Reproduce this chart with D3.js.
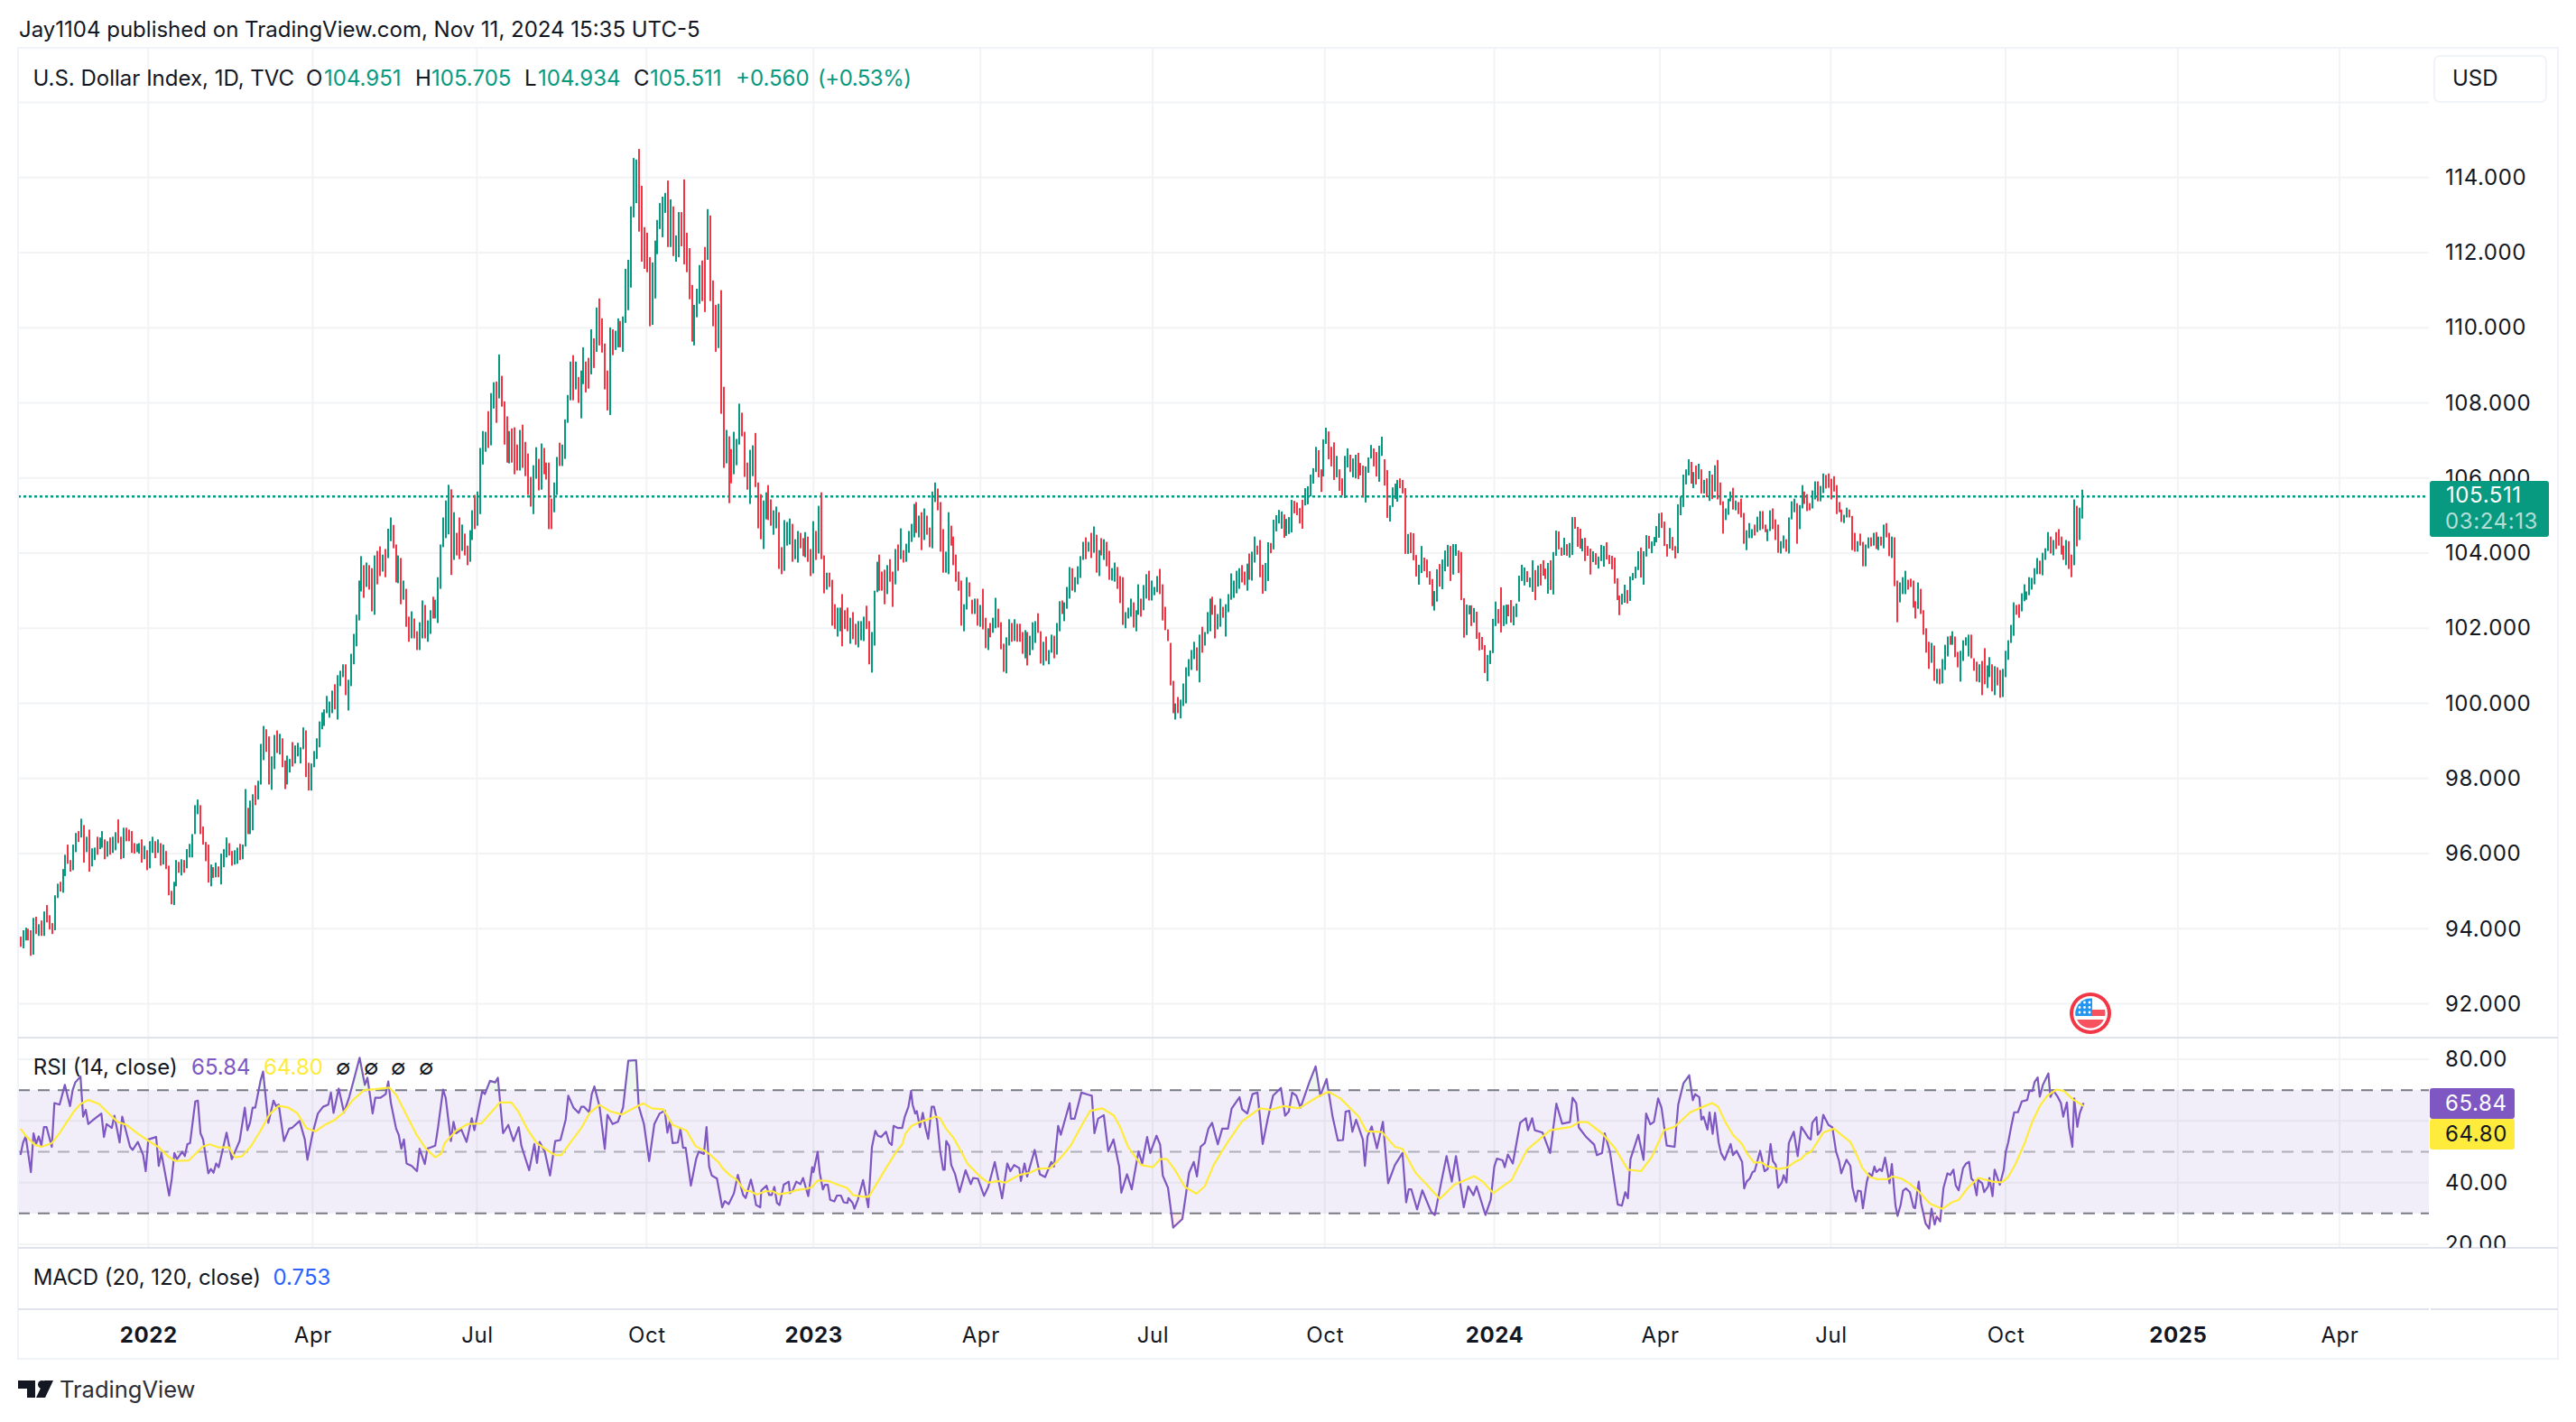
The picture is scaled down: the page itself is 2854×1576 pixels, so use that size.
<!DOCTYPE html>
<html>
<head>
<meta charset="utf-8">
<script src="https://cdn.jsdelivr.net/npm/d3@7"></script>
<style>
html, body { margin: 0; background: #fff; }
svg { display: block; font-family: Inter, "Noto Sans", sans-serif; }
</style>
</head>
<body>
<svg id="chart" width="2854" height="1576"></svg>
<script>
// bars: [high, low, up]
const bars2021 = [[93.79,93.52,0],[93.96,93.48,1],[94.03,93.69,1],[94.0,93.69,0],[93.96,93.28,0],[94.29,93.31,1],[94.32,93.86,0],[94.12,93.81,1],[94.22,93.81,0],[94.46,93.81,1],[94.63,94.17,0],[94.36,93.98,0],[94.15,93.86,0],[94.89,93.96,1],[95.2,94.82,1],[95.25,94.99,0],[95.59,94.96,1],[95.97,95.4,1],[96.24,95.73,0],[95.83,95.52,0],[96.24,95.56,1],[96.55,96.04,1],[96.6,96.31,0],[96.93,96.43,1],[96.76,95.76,0],[96.45,96.04,1],[96.64,95.52,0],[96.14,95.66,1],[96.16,95.83,1],[96.45,95.97,0],[96.43,96.12,1],[96.6,96.16,1],[96.38,95.85,0],[96.33,95.92,1],[96.43,95.97,0],[96.45,96.02,1],[96.57,96.09,1],[96.91,96.28,0],[96.45,95.85,0],[96.69,95.88,1],[96.69,96.33,0],[96.64,96.33,0],[96.6,96.02,0],[96.28,96.0,0],[96.26,96.04,1],[96.28,96.0,1],[96.38,95.76,0],[96.21,95.85,1],[96.09,95.56,0]];

const bars2022 = [[96.33,95.61,1],[96.45,96.02,1],[96.33,95.88,0],[96.38,96.02,1],[96.28,95.68,0],[96.24,95.71,1],[96.07,95.59,0],[95.68,94.89,0],[95.01,94.65,0],[95.25,94.63,1],[95.83,95.13,1],[95.78,95.49,0],[95.85,95.42,1],[95.83,95.49,0],[96.12,95.61,1],[96.26,95.9,1],[96.52,95.9,1],[97.29,96.52,1],[97.44,97.05,1],[97.29,96.52,0],[96.72,96.24,0],[96.31,95.8,0],[96.24,95.23,0],[95.71,95.13,1],[95.64,95.35,0],[95.76,95.37,1],[95.66,95.37,0],[96.0,95.18,1],[96.12,95.64,1],[96.43,95.9,1],[96.28,95.95,0],[96.07,95.68,0],[96.09,95.71,1],[96.16,95.73,1],[96.26,95.83,0],[96.24,95.85,1],[97.72,96.19,1],[97.22,96.52,0],[97.41,96.52,1],[97.58,96.62,1],[97.82,97.29,0],[97.94,97.44,1],[98.92,97.84,1],[99.4,98.49,1],[99.31,98.71,0],[99.12,97.84,0],[98.59,97.7,1],[99.16,98.25,1],[99.28,98.68,0],[99.19,98.64,1],[99.07,98.3,0],[98.48,97.72,0],[98.61,97.84,1],[98.52,98.16,1],[98.97,98.32,0],[98.88,98.4,1],[98.95,98.59,1],[98.83,98.4,1],[99.36,98.78,1],[99.28,98.04,0],[98.42,97.68,0],[98.4,97.68,1],[98.73,98.3,1],[99.07,98.52,1],[99.52,98.83,1],[99.76,99.31,1],[99.84,99.4,1],[100.2,99.74,1],[100.05,99.62,1],[100.34,99.74,1],[100.51,99.84,0],[100.75,99.57,1],[100.87,100.46,1],[101.04,100.7,1],[101.04,100.22,0],[100.63,99.81,1],[101.32,100.46,1],[101.85,101.04,1],[102.36,101.52,1],[103.27,102.21,1],[103.92,102.98,1],[103.68,102.81,0],[103.75,103.1,1],[103.68,103.03,0],[103.6,102.45,0],[103.94,102.36,1],[104.06,103.17,0],[104.18,103.39,0],[103.96,103.51,1],[104.11,103.36,0],[104.65,103.87,1],[104.95,104.32,1],[104.75,104.13,0],[104.23,103.22,0],[103.94,103.2,1],[103.87,102.64,0],[103.27,102.76,1],[103.05,102.04,0],[102.31,101.64,0],[102.45,101.73,1],[102.26,101.73,0],[101.92,101.42,0],[102.16,101.42,1],[102.74,101.73,1],[102.62,101.73,0],[102.21,101.64,1],[102.48,101.85,1],[102.84,102.26,0],[102.76,102.26,1],[103.36,102.14,1],[104.23,103.05,1],[104.95,104.16,1],[105.4,104.4,1],[105.82,104.5,1],[105.7,103.42,0],
[105.09,103.82,1],[104.54,103.94,0],[104.95,103.84,0],[104.76,104.06,1],[104.52,103.94,0],[104.2,103.68,0],[104.61,103.77,1],[105.14,104.35,1],[105.55,104.64,0],[105.64,104.73,1],[106.8,105.04,1],[107.25,106.36,1],[107.23,106.7,1],[107.78,106.8,0],[108.26,106.87,1],[108.55,107.85,1],[108.57,107.47,0],[109.29,108.12,1],[108.72,107.9,0],[108.04,106.89,0],[107.64,106.41,0],[107.25,106.39,1],[107.32,106.41,0],[107.35,106.1,0],[106.89,106.2,0],[107.28,106.2,1],[107.42,106.27,0],[106.96,106.05,0],[106.65,105.55,0],[106.03,105.24,0],[106.34,105.04,1],[106.82,105.98,1],[106.51,105.67,0],[106.92,105.69,1],[106.8,106.1,0],[106.41,105.96,0],[106.41,104.64,0],[105.45,104.64,0],[105.88,105.09,1],[106.56,105.55,1],[106.94,106.32,0],[106.89,106.32,1],[107.56,106.51,1],[108.21,107.47,1],[109.1,108.07,1],[109.27,108.07,0],[109.1,108.36,1],[108.69,108.0,0],[108.86,107.59,1],[109.48,108.5,1],[109.1,108.28,0],[109.2,108.38,0],[109.96,108.76,1],[109.72,108.93,0],[110.54,109.36,1],[110.78,109.53,0],[110.25,109.34,0],[109.58,108.36,0],[108.86,107.8,0],[110.01,107.68,1],[109.96,109.27,0],[109.92,109.41,1],[110.25,109.48,1],[110.18,109.48,0],[110.3,109.36,1],[111.57,110.13,1],[111.81,110.47,1],[113.23,111.07,1],[114.52,112.94,1],[114.48,113.32,1],[114.76,112.56,0],[113.78,111.76,0],[112.68,111.57,0],[112.53,111.48,0],[111.88,110.04,0],[111.74,110.08,1],[112.32,110.78,1],[112.87,111.96,1],[113.32,112.63,1],[113.49,112.41,1],[113.59,113.06,1],[113.92,112.15,0],[113.42,112.15,1],[113.23,111.91,0],[112.46,111.76,1],[113.08,111.88,1],[113.08,112.17,0],[113.95,111.69,0],[112.53,111.48,0],[112.12,110.76,0],[111.14,109.63,0],[110.61,109.53,1],[111.04,110.28,1],[111.67,110.64,1],[111.79,110.71,0],[112.15,110.42,0],[113.16,111.81,1],[112.99,110.71,0],[111.26,110.04,0],[110.61,109.36,0],[110.64,109.46,1],[111.0,107.71,0],[108.43,106.27,0],[107.28,106.39,1],[107.11,105.33,0],[106.77,105.86,0],[107.23,106.1,1],[107.04,106.34,1],[107.98,106.89,1],[107.74,107.11,0],[107.23,106.03,0],[106.41,105.69,0],[106.75,105.31,1],[106.87,106.05,1],[107.2,105.76,0],[105.88,104.66,0],[105.57,104.37,0],[105.4,104.11,1],[105.62,104.9,1],[105.81,104.88,0],[105.43,104.73,0],[105.14,104.49,1],[105.24,104.66,1],[105.09,103.58,0],[104.16,103.44,0],[104.88,103.53,1],[104.83,104.2,1],[104.92,104.23,1],[104.78,103.77,0],[104.37,103.84,1],[104.59,103.75,1],[104.54,104.13,0],[104.4,103.92,0],[104.56,103.89,1],[104.44,103.77,0],[104.11,103.39,0]];

const bars2023 = [[104.85,103.46,1],[104.59,103.82,0],[105.26,103.99,1],[105.62,103.84,0],[103.94,102.93,0],[103.48,103.03,1],[103.48,103.1,0],[103.29,102.07,0],[102.64,101.98,0],[102.55,101.78,1],[102.55,101.92,1],[102.91,101.52,0],[102.48,101.98,0],[102.55,101.92,0],[102.28,101.59,1],[102.43,101.71,0],[102.12,101.56,0],[102.19,101.49,1],[102.19,101.68,1],[102.31,101.66,1],[102.6,101.98,0],[102.19,101.04,0],[101.9,100.82,1],[103.0,101.54,1],[103.77,102.96,1],[103.96,103.0,0],[103.51,103.0,0],[103.56,102.64,0],[103.68,102.91,1],[103.84,103.24,0],[103.51,102.57,0],[104.11,103.17,1],[104.23,103.53,0],[104.66,103.84,1],[104.08,103.75,0],[104.25,103.77,1],[104.59,104.01,1],[104.78,104.3,1],[105.31,104.42,1],[105.36,104.54,0],[105.0,104.42,1],[105.09,104.08,0],[105.19,104.35,1],[105.0,104.49,0],[104.68,104.16,0],[105.64,104.13,1],[105.88,105.36,1],[105.72,105.14,0],[105.36,104.04,0],[104.64,103.48,0],[104.04,103.48,1],[105.09,103.44,1],[104.73,104.2,0],[104.44,103.68,0],[103.96,103.24,0],[103.51,103.0,0],[103.27,102.07,0],[102.64,101.92,1],[103.36,102.5,1],[103.22,102.84,0],[102.76,102.38,0],[102.79,102.38,1],[102.79,102.07,0],[102.62,102.04,1],[103.05,101.97,0],[102.28,101.47,0],[102.0,101.42,1],[102.14,101.76,0],[102.28,101.88,1],[102.81,102.0,1],[102.52,102.02,0],[102.16,101.44,0],[101.59,100.84,0],[101.76,100.8,1],[102.24,101.54,1],[102.14,101.64,0],[102.24,101.66,1],[102.12,101.64,0],[102.12,101.64,0],[101.9,101.32,0],[101.95,101.2,1],[101.9,101.01,0],[101.8,101.28,1],[102.16,101.42,1],[102.19,101.61,1],[102.4,101.88,0],[101.92,101.06,0],[101.64,101.01,1],[101.78,101.13,0],[101.42,101.04,1],[101.83,101.35,1],[101.8,101.2,0],[102.14,101.3,1],[102.72,101.92,1],[102.74,102.38,0],[102.69,102.19,1],[103.1,102.52,1],[103.63,102.79,1],[103.6,103.0,0],[103.36,102.96,1],[103.65,103.17,1],[103.92,103.34,1],[104.3,103.82,1],[104.42,103.84,0],[104.3,104.04,1],[104.54,103.87,0],[104.71,104.01,1],[104.49,103.48,0],[104.08,103.39,1],[104.4,103.94,0],[104.37,103.82,1],[104.3,103.65,0],[104.06,103.29,0],[103.6,103.27,1],[103.75,103.24,1],[103.63,103.05,0],[103.39,102.67,0],[103.36,102.09,0],[102.43,102.0,1],[102.55,102.26,1],[102.79,102.31,1],[102.69,102.02,0],[102.48,101.92,1],[103.17,102.36,1],[102.79,102.31,0],[103.15,102.48,1],[103.44,102.79,1],[103.53,102.74,0],[103.27,102.74,1],[103.1,102.88,1],[103.39,102.96,1],[103.58,102.91,0],[103.17,102.21,0],[102.57,101.95,0],[101.97,101.66,0],[101.61,100.48,0],[100.6,99.74,0],[100.0,99.57,1],[100.17,99.74,0],[100.1,99.6,1],[100.53,99.93,1],[100.96,100.0,1],[101.18,100.72,1],[101.42,100.89,1],[101.64,101.18,1],[101.49,100.87,0],[101.83,100.56,1],[102.04,101.35,0],[101.9,101.54,1],[102.43,101.85,1],[102.79,101.92,1],[102.84,102.36,0],[102.62,101.73,0],[102.38,101.97,1],[102.79,102.04,1],[102.57,102.28,0],[102.64,101.78,1],[102.91,102.43,1],[103.46,102.76,1],[103.27,102.81,1],[103.53,102.93,1],[103.6,103.05,1],[103.68,103.22,0],[103.51,103.15,0],[103.72,103.0,1],[103.99,103.29,0],[104.04,103.27,1],[104.44,103.75,1],[104.2,103.96,0],[104.35,103.36,0],
[103.69,102.92,0],[103.74,102.99,1],[104.29,103.26,1],[104.27,104.0,0],[104.89,104.1,1],[105.01,104.58,1],[105.15,104.79,1],[105.11,104.65,1],[105.03,104.41,0],[104.91,104.46,1],[104.96,104.51,1],[105.42,104.55,1],[105.39,105.06,0],[105.35,105.01,0],[105.2,104.79,0],[105.42,104.65,0],[105.73,105.27,1],[105.78,105.3,1],[106.09,105.51,1],[106.26,105.85,1],[106.83,106.16,1],[106.74,106.02,0],[106.23,105.63,0],[107.03,106.04,1],[107.34,106.91,1],[107.24,106.5,0],[106.83,106.31,0],[106.95,105.95,0],[106.59,106.02,1],[106.23,105.66,0],[105.99,105.54,0],[106.59,105.47,1],[106.79,106.28,1],[106.62,106.16,0],[106.52,106.02,1],[106.62,105.99,1],[106.67,105.97,0],[106.4,106.07,0],[106.33,105.49,0],[106.31,105.35,1],[106.55,106.14,1],[106.88,106.52,1],[106.79,106.31,0],[106.69,106.04,0],[106.86,105.9,1],[107.1,106.59,1],[106.5,105.8,0],[106.21,104.94,0],[105.27,104.84,1],[105.75,105.23,1],[105.85,105.44,1],[105.95,105.37,1],[105.99,105.73,0],[105.95,105.59,0],[105.73,103.98,0],[104.51,103.98,1],[104.55,104.0,0],[104.53,103.81,0],[103.95,103.38,0],[103.69,103.16,1],[104.19,103.47,1],[103.88,103.52,0],[103.83,103.35,0],[103.52,103.16,0],[103.31,102.59,0],[102.99,102.47,1],[103.57,102.71,1],[103.71,103.11,0],[103.83,103.04,1],[104.07,103.52,1],[104.22,103.64,1],[104.19,103.26,0],[104.24,103.43,1],[104.24,103.93,1],[104.07,103.47,0],[104.03,102.75,0],[102.8,101.75,0],[102.63,101.82,1],[102.61,102.37,1],[102.61,102.06,0],[102.54,102.15,1],[102.44,101.72,0],[101.89,101.41,0],[101.77,101.43,0],[101.55,100.81,0],[101.29,100.59,1],[101.41,101.05,1]];

const bars2024 = [[102.25,101.34,1],[102.71,102.06,1],[102.51,102.13,0],[103.09,101.89,0],[102.61,102.06,1],[102.63,102.11,1],[102.63,102.32,0],[102.75,102.15,0],[102.59,102.08,1],[102.66,102.3,1],[103.4,102.71,1],[103.69,103.26,1],[103.62,103.14,1],[103.52,103.23,0],[103.35,103.09,1],[103.81,102.97,1],[103.55,102.75,0],[103.67,103.11,1],[103.71,103.14,0],[103.81,103.4,0],[103.59,103.31,0],[103.74,102.92,1],[103.81,103.02,0],[104.03,102.9,1],[104.6,103.93,1],[104.58,104.1,0],[104.15,103.93,0],[104.41,103.95,1],[104.24,103.93,0],[104.27,103.88,1],[104.96,103.95,1],[104.96,104.65,0],[104.7,104.17,0],[104.65,104.12,0],[104.39,104.05,1],[104.41,103.79,0],[104.19,103.93,0],[104.12,103.43,0],[104.05,103.76,1],[104.0,103.69,0],[103.91,103.59,1],[104.22,103.79,1],[104.19,103.64,1],[104.29,103.83,0],[103.95,103.71,0],[103.93,103.57,0],[103.88,103.19,0],[103.33,102.75,0],[102.87,102.35,0],[102.92,102.63,1],[103.16,102.68,1],[103.02,102.66,0],[103.38,102.73,1],[103.47,103.28,1],[103.64,103.33,1],[104.05,103.55,1],[104.15,103.35,0],[104.05,103.16,1],[104.48,103.91,1],[104.46,104.12,0],[104.31,104.0,1],[104.43,104.19,1],[104.72,104.29,1],[105.06,104.41,1],[105.08,104.67,0],[104.84,104.19,0],[104.24,103.91,0],[104.67,104.12,1],[104.43,104.07,0],[104.19,103.86,0],[105.3,104.0,1],[105.51,105.01,1],[106.09,105.23,1],[106.23,105.83,1],[106.5,106.07,1],[106.43,105.85,0],[106.16,105.73,1],[106.33,105.83,0],[106.38,105.97,1],[106.23,105.59,0],[105.95,105.59,1],[105.99,105.49,0],[106.19,105.39,1],[106.09,105.44,0],
[106.34,105.64,1],[106.48,105.43,0],[105.88,105.28,0],[105.38,104.52,0],[105.19,104.88,1],[105.45,105.02,1],[105.64,105.38,1],[105.74,105.16,0],[105.4,105.14,1],[105.36,105.04,0],[105.45,104.95,0],[105.07,104.25,0],[104.61,104.08,1],[104.8,104.4,1],[104.64,104.4,1],[104.76,104.47,0],[104.97,104.56,1],[105.12,104.61,1],[105.12,104.64,0],[104.76,104.56,0],[104.64,104.32,1],[105.14,104.59,1],[105.19,104.64,0],[104.9,104.35,0],[104.76,104.01,0],[104.32,103.99,1],[104.47,104.13,1],[104.37,104.04,0],[104.95,103.99,1],[105.38,104.9,1],[105.45,105.09,1],[105.33,104.25,0],[105.28,104.64,1],[105.81,105.19,1],[105.64,105.31,0],[105.57,105.12,0],[105.33,105.14,0],[105.67,105.19,1],[105.91,105.43,1],[105.91,105.38,0],[105.79,105.38,1],[106.12,105.6,1],[106.08,105.72,0],[106.12,105.74,0],[105.98,105.43,0],[106.05,105.64,0],[105.81,105.04,0],[105.36,105.09,0],[105.16,104.83,0],[105.02,104.8,1],[105.21,104.95,1],[105.16,104.95,0],[104.99,104.08,0],[104.54,104.04,0],[104.32,104.04,1],[104.52,104.2,0],[104.3,103.65,0],[104.23,103.65,1],[104.42,104.13,1],[104.42,104.18,0],[104.54,104.2,1],[104.56,104.11,0],[104.44,104.08,1],[104.44,104.2,0],[104.76,104.13,1],[104.8,104.42,0],[104.54,103.92,0],[104.44,103.87,1],[104.42,103.12,0],[103.27,102.16,0],[103.22,102.69,1],[103.36,102.91,1],[103.53,102.91,1],[103.29,103.03,0],[103.32,103.1,0],[103.27,102.55,0],[102.72,102.26,0],[103.22,102.52,1],[103.05,102.38,0],[102.48,101.83,0],[102.0,101.35,0],[101.64,100.92,0],[101.61,101.08,1],[101.54,100.6,0],[100.92,100.53,1],[100.92,100.51,0],[101.18,100.53,1],[101.56,100.89,1],[101.78,101.25,1],[101.8,101.56,0],[101.92,101.56,1],[101.78,101.23,0],[101.37,100.96,0],[101.4,100.58,1],[101.68,101.13,1],[101.76,101.54,1],[101.83,101.25,1],[101.83,101.2,0],[101.2,100.87,0],[101.11,100.58,0],[101.04,100.56,1],[101.13,100.22,0],[101.47,100.51,0],[101.01,100.41,1],[101.23,100.7,1],[101.04,100.32,0],[100.99,100.22,1],[100.96,100.48,0],[100.89,100.15,0],[100.92,100.17,1],[101.4,100.7,1],[101.68,101.16,1],[102.09,101.61,1],[102.69,101.8,1],[102.62,102.36,0],[102.64,102.28,0],[102.93,102.45,1],[103.17,102.72,1],[102.98,102.76,1],[103.36,102.88,1],[103.34,103.03,1],[103.6,103.17,1],[103.87,103.44,1],[103.8,103.44,0],[104.01,103.41,1],[104.13,103.82,1],[104.56,104.06,1],[104.44,103.99,0],[104.35,103.94,1],[104.56,104.11,0],[104.64,104.2,0],[104.44,103.96,0],[104.2,103.82,0],[104.35,103.68,1],[104.32,103.58,0],[103.96,103.36,0],[105.43,103.68,1],[105.26,104.18,0],[105.21,104.35,1],[105.69,104.92,1]];

// RSI turning points: [bar number, value]
const rsiPointsA = [[0,49],[1,53],[2,55],[4,43.4],[5,56],[6,52.5],[7,55],[8,52],[9,58],[10,58],[12,51.6],[13,65.8],[15,65.3],[17,71.7],[19,64.8],[20,70],[21,72.5],[23,74.4],[24,61.4],[25,63.6],[26,59],[28,60.4],[31,62.4],[32,54.8],[33,59],[35,57.7],[36,61.7],[38,53],[39,61.4],[42,51.6],[43,50.6],[45,53.2],[47,49],[48,43.7],[49,54],[52,54.8],[53,45.4],[54,49.6],[57,35.8],[58,41.3],[59,49.6],[60,47.6],[62,50],[63,48.6],[64,52.5],[65,52.8],[67,66.3],[68,66.6],[69,56],[70,54],[72,43],[73,44.4],[74,43.2],[75,46.2],[76,45],[79,56.2],[81,47.6],[84,53.5],[86,64.3],[87,57],[88,59.4],[89,64.3],[90,64.3],[92,73],[93,76],[95,59.4],[97,66.6],[98,64.8],[99,65.3],[101,53.5],[103,57.5],[104,57.7],[107,60],[109,54],[110,47.4],[112,56],[114,62.4],[116,64.6],[118,65.3],[119,69.2],[120,62.6],[122,70.5],[124,62.8],[126,67.7],[128,74],[130,80.5],[132,71.7],[133,74],[135,62.4],[136,67.5],[138,67.5],[140,68.7],[141,72.8],[142,65.8],[144,57.5],[145,55.5],[146,51],[147,54],[148,46.2],[150,45.4],[152,43.7],[153,51],[155,46],[156,51],[159,52],[160,57.5],[162,70.2],[163,67.5],[165,53.5],[166,59.7],[167,56],[169,57.2],[171,53.2],[173,60.9],[174,57],[177,69.7],[178,68.7],[180,73],[182,72.5],[183,74],[185,56],[187,58.7],[189,53.5],[191,58],[192,52],[195,44],[197,52.5],[198,46.4],[199,53.2],[201,50],[203,42.3],[205,53.5],[207,53.8],[209,60.4],[210,68.2],[212,64.3],[214,62.6],[215,64.6],[216,64.6],[218,62.8],[219,68.7],[220,71.2],[222,64.6],[224,50.9],[225,62],[227,59],[229,59.7],[231,64.3],[233,79.5],[236,79.7],[237,64.8],[239,59],[241,47],[243,59],[245,62.4],[247,63.3],[248,56.2],[249,60],[250,52.8],[252,53],[253,57.5],[254,51.3],[255,51.3],[257,39],[259,47.6],[260,50],[262,49.3],[263,58],[264,45.2],[265,42.3],[267,41.3],[269,32]];
const rsiPointsB = [[270,34],[271.5,33],[273.5,36.5],[275,42.5],[277,36],[278,35],[280,41],[281,37.5],[282,32.7],[283.6,32],[284,37.5],[286,39],[287,36],[288,36],[289,38.6],[290,33.4],[291,32.7],[292.6,39.3],[294.5,40.3],[295,36.6],[296,37.4],[297.4,40.3],[299,39.5],[300,41.5],[302,35.6],[303.5,45],[304,43.4],[305.6,50],[306.4,43.2],[307.6,37.8],[308.4,39.3],[309.5,39.3],[310.4,34.4],[312,33.9],[313,35.8],[314.5,35.8],[315.6,33.6],[317,33.4],[317.4,35],[319,33.4],[319.7,31.5],[321,34.4],[323,40.8],[325,32],[326.4,51.5],[327.7,56.8],[328.7,55.2],[330,54.8],[331.8,56.5],[333,53],[334,52.2],[334.7,58.4],[336.4,57.7],[338,57.7],[339,61.4],[340.4,64.6],[341.4,69.7],[342,65.3],[343,62.4],[343.6,63.2],[344.8,58],[345.9,62.6],[347,57.5],[348,54.2],[349.3,64.6],[350.2,64.6],[351.4,60],[352.5,50.6],[353.7,44.2],[354.3,44.2],[354.9,53.5],[356,51.9],[356.8,45.7],[358.3,42.7],[360,36.9],[362.3,44],[364.3,39.5],[365.2,41.5],[367,41.3],[369.4,35.7],[371,38.6],[373.5,46.7],[376.3,34.9],[378.3,46.2],[379.5,43.7],[380.9,45.7],[382.9,44.7],[383.5,40.5],[384.9,46.2],[385.9,42],[388.8,50.6],[390.8,42.7],[392.8,41.8],[395.2,46.7],[396.2,45.2],[397.8,58.4],[398.8,55.5],[402.2,65.8],[402.7,60.7],[404.1,60.7],[406.7,69.2],[409.3,68.5],[410.7,68.2],[411.7,56],[413.1,60.7],[415.3,61.9],[417,50.1],[419,54],[421.2,45.2],[422,36.7],[424.2,42.7],[426,37.8],[428.6,50.1],[430,46.2],[431.9,54.8],[433.1,49.6],[435.5,55.2],[436.9,52.3],[437.9,42.3],[439.9,38.3],[441.9,25.4],[445.4,28.2],[448,43.2],[449.8,46.7],[451,42],[452.4,51.6],[454,52.8],[455.4,57.5],[456.8,59.4],[459,52.4],[460.7,57.5],[462.9,57.5],[464.3,64],[467.3,67.7],[468.3,63.8],[470.3,62.4],[472.3,68.7],[474.2,69.2],[476.2,52.5],[478.2,60.9],[480.2,68.2],[483.2,70.7],[484.8,61.7],[486.2,63],[487.5,69.2],[489.1,68.2],[490.7,64.3],[494.1,72.6],[496.5,77.7],[498.3,68.2],[500.7,73.6],[503,61.4],[505,53.7],[507,53.8],[508,63],[509.4,63.3],[510.6,56.5],[512,60.4],[514.6,54],[515.4,45.4],[516.4,55],[518,58.2],[520,51.1],[522.3,59.7],[524.3,39.8],[526.9,45.7],[529.8,49.6],[531.2,33.6],[532.2,37.8],[533.2,37.8],[535.4,31.3],[537.4,37.5],[540.8,30.5],[542.2,29.5],[544.7,40.3],[546.7,48.6],[548.7,40.3],[550.3,48.6],[553.3,32],[555,38.8],[557,35.9],[558.2,38.8],[561.6,29.5],[563.6,34.4]];
const rsiPointsC = [[565,45.2],[566,47.8],[568.2,47.2],[569,45],[570.2,49.1],[572.1,46.2],[574.9,59.4],[577.1,60.9],[577.9,57],[579.5,60.9],[580.5,57],[583.5,56.2],[586.4,49.6],[588.8,65.6],[591,59.1],[594,59.6],[595,67.5],[596.4,65.8],[597.4,57.9],[600,55],[603.3,52.3],[604.3,48.9],[606.3,49.6],[607.3,56],[609.3,50.1],[612.3,32.9],[613.9,32.5],[615.2,36.9],[616.2,34.9],[617.2,47.6],[620.2,55.5],[622.2,47.4],[623.2,62.4],[624.8,58.9],[626.2,59.7],[627.8,67.3],[629.1,64.3],[631.1,52],[634.1,51.6],[635.5,65.3],[637.5,72.2],[639.7,74.8],[641.1,66.7],[642,68.7],[643.6,67.7],[644.4,60.4],[645.2,61.4],[646.7,57.2],[647.5,62.8],[648.7,55.8],[649.6,62.6],[651,53],[651.9,49.6],[653.3,47.4],[655.6,52.5],[656.5,48.9],[657.9,50.3],[660,46.7],[660.8,38.1],[661.7,40.3],[662.9,41.3],[664,43.4],[664.8,43.7],[666.9,50.3],[668.6,43.7],[669.8,44.4],[670.9,52.5],[671.8,47],[672.9,45.7],[673.8,38.3],[675.2,40],[675.9,42.4],[677,40],[677.9,52.8],[679.8,56.5],[681.3,48.6],[682.7,58.1],[684.2,56.2],[685.4,54.5],[686.3,54],[686.9,59.4],[688.5,61.2],[689,55.5],[690.2,57],[691.1,62],[693.1,58.7],[694.6,57.9],[696,50.1],[697.1,47.2],[698,43],[700,47.4],[701.5,45.4],[702.3,38.4],[703.6,33.9],[704.4,37.4],[705.5,37.2],[706.3,31.7],[707.8,40.3],[708.7,43],[709.8,42.1],[710.7,45.2],[711.5,43.4],[712.8,44.4],[713.6,43.7],[714.8,48.1],[716.5,39.8],[717.4,46],[718.8,32.5],[719.6,29.2],[720.8,32.9],[721.7,37.4],[722.8,38.1],[724.3,36.9],[725.7,32],[726.3,31.7],[727.7,40.3],[728.6,33.4],[730.3,26.8],[731.7,25.1],[732.6,31.5],[733.8,26.4],[734.6,29],[735.9,27.4],[737.2,38.3],[738.7,43],[739.8,42.5],[741,44.2],[741.9,39.1],[743,37.5],[744.7,44.7],[745.9,46.2],[747,46.7],[747.9,41.3],[748.8,40.5],[749.9,35.9],[750.5,40.8],[752,39.8],[752.8,36.9],[754.3,38.8],[754.8,41.5],[756,35.6],[756.8,44.2],[758.8,39.3],[760.3,44.2],[761.1,50.1],[762,53],[763.2,58.4],[764.3,62.8],[765.7,62.8],[767.2,66.3],[769.3,66.8],[770.1,69.7],[771.3,69.7],[772.1,72.6],[773.3,74.1],[774.1,67.9],[775.3,71.7],[777.4,75.4],[778.2,67.8],[779.3,69.9],[781,67.8],[782.2,65.8],[783.1,61.4],[784.5,66],[785.3,57.9],[786.6,51.6],[787.3,67.3],[788.5,58.1],[789.4,62.4],[790.9,65.84]];

// RSI moving average, read at intervals along the yellow line
const rsiMaPoints = [[0,57.5],[1.9,55.3],[5.4,52.3],[8,51.6],[12,52.8],[15.1,56.2],[17.8,59.7],[20.4,63],[23,65.5],[26.1,66.8],[30.1,65.5],[33.6,62.6],[37.2,59.7],[40.7,58.7],[45.1,55.8],[49.5,53.3],[53.1,51.4],[56.6,48.5],[59.3,47],[64.6,47.2],[67.2,49.4],[69.9,51.7],[72.5,52.4],[76,51.4],[80,51.4],[82.2,48.2],[84.9,48.5],[88.4,51.9],[92,56.8],[95.5,62.2],[99,64.9],[102.5,64.4],[106,62.6],[109.6,57.7],[113.1,56.6],[116.6,58.7],[120.2,60.2],[123.7,62.6],[127.2,66.6],[131.7,70],[136.1,70.3],[141.4,70.8],[144,68.5],[148.4,61.2],[152,55.3],[155.5,50.9],[159,48.2],[161.3,49.4],[162.6,52.8],[167,56.8],[171.4,59],[176.7,59.2],[180.2,62.6],[183.8,66],[188.2,66],[190.8,63.1],[194.4,57.2],[197.9,52.8],[202.3,50.3],[205,48.9],[207.3,48.9],[211.1,53.3],[215,57.7],[218.2,62.6],[222,65.2],[226.1,63.1],[230.5,62.1],[235,64.1],[238.8,65.7],[242,64.1],[246.4,63.8],[250,58.7],[255.3,56.9],[258.8,51.8],[262.4,50.2],[264.3,49.1],[267.8,46.4],[269.1,44.7],[271.8,42.5],[274.7,40.8],[277.6,37.4],[279.9,37.2],[282.2,36.1],[285.6,37.2],[288.3,37.2],[290.8,36.2],[294.3,36.7],[297.7,37.6],[301.2,38],[303.3,38.5],[305.6,40.7],[309.8,40.5],[313.3,39.3],[316.8,38.3],[319.3,35.9],[323.1,35.4],[325.2,35.4],[328.3,39.8],[331.8,44.7],[335.8,50.1],[338.1,52.5],[339.2,55.8],[341.6,58.4],[345,59.7],[348.5,60.7],[350.8,61.4],[352.5,60.9],[354.8,57.5],[357.7,54.5],[360.6,50.1],[363,46.2],[368,41.8],[371,40],[375,40.5],[377.5,40],[382.9,42.5],[386.9,43.2],[390.2,44.5],[394.8,44.7],[398.8,48.1],[402.7,52.1],[406.7,58.4],[410.1,63.3],[414.7,64.1],[419.2,61.7],[421.6,57.9],[424.6,51.6],[429.6,45.7],[434.1,45],[436.9,47.6],[439.5,47.6],[442.5,44.2],[446.4,38.6],[450.8,36.4],[454,38.8],[457.4,45.7],[462.3,52.5],[468.3,59.9],[475.2,64.1],[479.2,63.6],[484.2,64.8],[490.1,64.1],[497.1,67.7],[501.4,69.5],[506,67.3],[513,61.4],[515.9,56.7],[521.9,56.4],[526.9,51.6],[529.8,50.9],[534.8,43.2],[538.8,39.6],[544.1,34.7],[549.7,39.3],[553.7,40.8],[557.3,42.1],[560.6,40.3],[564.6,36.6],[571.6,40.8],[577.5,50.6],[586.4,57],[594.4,58.1],[597.4,59.6],[600.7,59.6],[606.3,56],[611.3,51.1],[616.2,44.2],[621.2,43.7],[625.2,48.1],[630.1,57],[634.1,58.1],[640.1,62.8],[645,64.6],[648.5,65.8],[650.8,64.6],[653.7,59.4],[656.5,55.5],[660,52.5],[661.7,49.6],[664.6,46.5],[667.5,46.5],[669.5,45.4],[673.8,44.4],[677.3,44.9],[680.2,46.7],[682.5,47.6],[684.2,49.1],[686.5,50.1],[691.1,56.2],[695.2,57.5],[698,55.5],[701.5,53.2],[704.4,48.1],[706.1,44.7],[709,41.8],[711.9,41.1],[715.9,41.1],[717.6,42],[721.1,41.3],[724,39.8],[727.4,37.4],[732,33.2],[736.7,31.5],[740.7,33.7],[743,34.4],[746.5,38.3],[750.5,41.5],[756.3,40.3],[759.4,40.1],[762,41.8],[764.9,46.2],[768.4,53],[771.3,59.9],[774.1,64.8],[777,68.2],[780.5,70.2],[783.4,69.7],[786.8,67],[790.9,64.8]];

const priceTicks = [114,112,110,108,106,104,102,100,98,96,94,92];
const priceGrid = [116].concat(priceTicks);
const rsiGrid = [80,60,40,20];
const rsiTicks = [80,40,20];
const timeLabels = ['2022','Apr','Jul','Oct','2023','Apr','Jul','Oct','2024','Apr','Jul','Oct','2025','Apr'];
const timeBars = [49,112,175,240,304,368,434,500,565,628.5,694,761,827,889];
const lastClose = 105.511;

const GREEN = '#089981', RED = '#F23645', PURPLE = '#7E57C2', YELLOW = '#FFEB3B';
const INK = '#131722', GRID = '#f2f3f5', SEP = '#e0e3eb', FRAME = '#f0f3fa';

const bars = bars2021.concat(bars2022, bars2023, bars2024);
const rsiPoints = rsiPointsA.concat(rsiPointsB, rsiPointsC);

const L = 20, R = 2691, TOP = 53, MAIN_B = 1150, RSI_B = 1383, MACD_B = 1451, BOTTOM = 1506, RIGHT = 2834;
const LAST_X = 2307, FIRST_X = 22.7;

const x = d3.scaleLinear().domain([0, 790.4]).range([FIRST_X, LAST_X]);
const barX = d3.scaleLinear().domain([0, bars.length - 1]).range([FIRST_X, LAST_X]);
const yPrice = d3.scaleLinear().domain([92, 116]).range([1112.6, 113.5]);
const yRsi = d3.scaleLinear().domain([20, 80]).range([1379, 1174]);

const svg = d3.select('#chart');
svg.append('rect').attr('width', 2854).attr('height', 1576).attr('fill', '#fff');

const defs = svg.append('defs');
function addClip(id, x0, y0, w, h) {
    defs.append('clipPath').attr('id', id).append('rect')
        .attr('x', x0).attr('y', y0).attr('width', w).attr('height', h);
}
addClip('clip-main', L, TOP, R - L, MAIN_B - TOP);
addClip('clip-rsi', L, MAIN_B, R - L, RSI_B - MAIN_B);
addClip('clip-rsi-axis', R, MAIN_B, RIGHT - R, RSI_B - MAIN_B);
addClip('clip-over', L, MAIN_B, R - L, yRsi(70) - MAIN_B);
addClip('clip-under', L, yRsi(30), R - L, RSI_B - yRsi(30));

// grid
const grid = svg.append('g').attr('stroke', GRID).attr('stroke-width', 2);
grid.selectAll('.hp').data(priceGrid).join('line').attr('class', 'hp')
    .attr('x1', L).attr('x2', R)
    .attr('y1', d => yPrice(d)).attr('y2', d => yPrice(d));
grid.selectAll('.hr').data(rsiGrid).join('line').attr('class', 'hr')
    .attr('x1', L).attr('x2', R)
    .attr('y1', d => yRsi(d)).attr('y2', d => yRsi(d));
grid.selectAll('.v').data(timeBars).join('line').attr('class', 'v')
    .attr('x1', d => x(d)).attr('x2', d => x(d))
    .attr('y1', TOP).attr('y2', RSI_B);

// RSI band and levels
svg.append('rect')
    .attr('x', L).attr('width', R - L)
    .attr('y', yRsi(70)).attr('height', yRsi(30) - yRsi(70))
    .attr('fill', PURPLE).attr('fill-opacity', 0.1);
const levels = [[70, '#787b86'], [50, 'rgba(120,123,134,0.55)'], [30, '#787b86']];
svg.append('g').selectAll('line').data(levels).join('line')
    .attr('x1', L).attr('x2', R)
    .attr('y1', d => yRsi(d[0])).attr('y2', d => yRsi(d[0]))
    .attr('stroke', d => d[1]).attr('stroke-width', 2)
    .attr('stroke-dasharray', '13 9');

// price bars
const main = svg.append('g').attr('clip-path', 'url(#clip-main)');
main.append('line')
    .attr('x1', L).attr('x2', R - 3)
    .attr('y1', yPrice(lastClose)).attr('y2', yPrice(lastClose))
    .attr('stroke', GREEN).attr('stroke-width', 2.5).attr('stroke-dasharray', '3 3');
main.selectAll('.bar').data(bars).join('rect').attr('class', 'bar')
    .attr('x', (d, i) => Math.round(barX(i)) - 1)
    .attr('width', 2)
    .attr('y', d => yPrice(d[0]))
    .attr('height', d => yPrice(d[1]) - yPrice(d[0]))
    .attr('fill', d => d[2] ? GREEN : RED);

// RSI lines
const rsiPane = svg.append('g').attr('clip-path', 'url(#clip-rsi)');
const rsiArea = base => d3.area().x(d => x(d[0])).y0(yRsi(base)).y1(d => yRsi(d[1]));
svg.append('path').datum(rsiPoints).attr('d', rsiArea(70))
    .attr('fill', '#4caf50').attr('fill-opacity', 0.1).attr('clip-path', 'url(#clip-over)');
svg.append('path').datum(rsiPoints).attr('d', rsiArea(30))
    .attr('fill', '#ff5252').attr('fill-opacity', 0.1).attr('clip-path', 'url(#clip-under)');
const rsiLine = d3.line().x(d => x(d[0])).y(d => yRsi(d[1]));
rsiPane.append('path').datum(rsiPoints).attr('d', rsiLine)
    .attr('fill', 'none').attr('stroke', PURPLE).attr('stroke-width', 2.2).attr('stroke-linejoin', 'round');
rsiPane.append('path').datum(rsiMaPoints).attr('d', rsiLine)
    .attr('fill', 'none').attr('stroke', YELLOW).attr('stroke-width', 2.2).attr('stroke-linejoin', 'round');

// frame and separators
const frame = svg.append('g').attr('fill', 'none');
frame.append('rect').attr('x', L).attr('y', TOP).attr('width', RIGHT - L).attr('height', BOTTOM - TOP)
    .attr('stroke', FRAME).attr('stroke-width', 2);
frame.selectAll('line').data([MAIN_B, RSI_B, MACD_B]).join('line')
    .attr('x1', L).attr('x2', RIGHT)
    .attr('y1', d => d).attr('y2', d => d)
    .attr('stroke', SEP).attr('stroke-width', 2);
frame.append('line').attr('x1', R).attr('x2', R + 2).attr('y1', MACD_B).attr('y2', MACD_B)
    .attr('stroke', '#fff').attr('stroke-width', 3);

// axes
const axisFont = g => g.attr('font-family', 'Inter, "Noto Sans", sans-serif').attr('font-size', 24).attr('letter-spacing', 0.6);
const priceAxis = svg.append('g').attr('transform', 'translate(2709,0)')
    .call(d3.axisRight(yPrice).tickValues(priceTicks).tickSize(0).tickPadding(0).tickFormat(d3.format('.3f')))
    .call(axisFont);
priceAxis.select('.domain').remove();
priceAxis.selectAll('text').attr('fill', INK);

const rsiAxisWrap = svg.append('g').attr('clip-path', 'url(#clip-rsi-axis)');
const rsiAxis = rsiAxisWrap.append('g').attr('transform', 'translate(2709,0)')
    .call(d3.axisRight(yRsi).tickValues(rsiTicks).tickSize(0).tickPadding(0).tickFormat(d3.format('.2f')))
    .call(axisFont);
rsiAxis.select('.domain').remove();
rsiAxis.selectAll('text').attr('fill', INK);

const timeAxis = svg.append('g').attr('transform', 'translate(0,1480)')
    .call(d3.axisBottom(x).tickValues(timeBars).tickSize(0).tickPadding(0).tickFormat((d, i) => timeLabels[i]))
    .call(axisFont);
timeAxis.select('.domain').remove();
timeAxis.selectAll('text')
    .attr('y', 0).attr('dy', '0.35em').attr('fill', INK)
    .attr('font-weight', (d, i) => /^\d/.test(timeLabels[i]) ? 700 : 400);

// texts
function label(x0, y0, str, fill, opts) {
    const o = opts || {};
    return svg.append('text').attr('x', x0).attr('y', y0).attr('dy', '0.35em')
        .attr('font-size', o.size || 24).attr('fill', fill || INK)
        .attr('letter-spacing', o.spacing || 0)
        .attr('font-weight', o.weight || 400).text(str);
}
label(21, 33, 'Jay1104 published on TradingView.com, Nov 11, 2024 15:35 UTC-5');

const headerBits = [
    [36.5, 'U.S. Dollar Index, 1D, TVC', INK],
    [339, 'O', INK], [359, '104.951', GREEN],
    [460, 'H', INK], [478, '105.705', GREEN],
    [581, 'L', INK], [596, '104.934', GREEN],
    [702, 'C', INK], [720, '105.511', GREEN],
    [815, '+0.560', GREEN], [906, '(+0.53%)', GREEN]
];
headerBits.forEach(b => label(b[0], 87, b[1], b[2], { spacing: b[1][0] === '(' ? -0.5 : 0 }));

const rsiBits = [
    [36.7, 'RSI (14, close)', INK], [212, '65.84', PURPLE], [292, '64.80', YELLOW],
    [372, '\u2205', INK], [403, '\u2205', INK], [433, '\u2205', INK], [464, '\u2205', INK]
];
rsiBits.forEach(b => label(b[0], 1183, b[1], b[2]));

label(36.7, 1416, 'MACD (20, 120, close)');
label(302.5, 1416, '0.753', '#2962FF');

// USD box
svg.append('rect').attr('x', 2697).attr('y', 62).attr('width', 124).attr('height', 51).attr('rx', 6)
    .attr('fill', '#fff').attr('stroke', FRAME).attr('stroke-width', 2);
label(2717, 87, 'USD');

// price tag
svg.append('rect').attr('x', 2692).attr('y', 533).attr('width', 132).attr('height', 62).attr('rx', 3).attr('fill', GREEN);
label(2710, 549, '105.511', '#fff', { spacing: 0.6 });
label(2709, 578, '03:24:13', 'rgba(255,255,255,0.7)', { spacing: 0.6 });

// RSI tags
svg.append('rect').attr('x', 2692).attr('y', 1206).attr('width', 94).attr('height', 34).attr('rx', 3).attr('fill', PURPLE);
svg.append('rect').attr('x', 2692).attr('y', 1240).attr('width', 94).attr('height', 34).attr('rx', 3).attr('fill', YELLOW);
label(2709, 1223, '65.84', '#fff', { spacing: 0.6 });
label(2709, 1257, '64.80', INK, { spacing: 0.6 });

// flag badge
const flag = svg.append('g').attr('transform', 'translate(2316,1123)');
defs.append('clipPath').attr('id', 'clip-flag').append('circle').attr('r', 16.5);
flag.append('circle').attr('r', 23).attr('fill', '#F23645');
flag.append('circle').attr('r', 19).attr('fill', '#fff');
const flagInner = flag.append('g').attr('clip-path', 'url(#clip-flag)');
flagInner.append('rect').attr('x', -17).attr('y', -17).attr('width', 34).attr('height', 34).attr('fill', '#fff');
flagInner.append('rect').attr('x', -17).attr('y', -4).attr('width', 34).attr('height', 7).attr('fill', '#F7525F');
flagInner.append('rect').attr('x', -17).attr('y', 7).attr('width', 34).attr('height', 10).attr('fill', '#F7525F');
flagInner.append('rect').attr('x', -17).attr('y', -17).attr('width', 19).attr('height', 20).attr('fill', '#2196F3');
flagInner.selectAll('circle').data(d3.range(9)).join('circle')
    .attr('cx', d => -12 + (d % 3) * 5.5)
    .attr('cy', d => -12 + Math.floor(d / 3) * 5.5)
    .attr('r', 1.4).attr('fill', '#fff');

// TradingView logo
const logo = svg.append('g').attr('fill', INK);
logo.append('path').attr('d', 'M20 1530H39V1549H30V1539H20Z');
logo.append('circle').attr('cx', 46.5).attr('cy', 1534.5).attr('r', 4.5);
logo.append('path').attr('d', 'M59 1530L50 1549H40L49 1530Z');
label(66, 1540, 'TradingView', '#2a2e39', { size: 25.5 });
</script>
</body>
</html>
